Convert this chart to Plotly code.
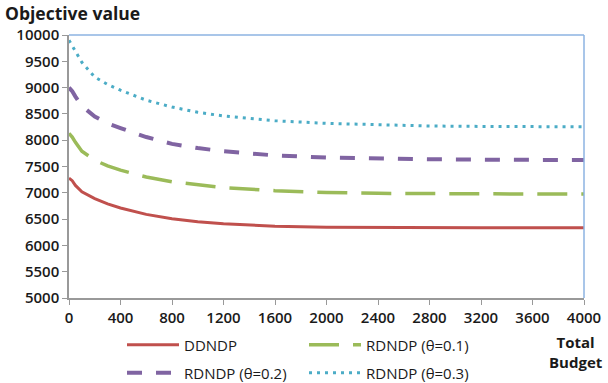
import plotly.graph_objects as go

budget = [0, 25, 50, 100, 200, 300, 400, 600, 800, 1000, 1200, 1600, 2000, 2400, 2800, 3200, 3600, 4000]
ddndp = [7280, 7230, 7140, 7020, 6890, 6790, 6710, 6590, 6505, 6450, 6410, 6365, 6345, 6338, 6335, 6335, 6335, 6335]
rdndp_01 = [8130, 8060, 7960, 7790, 7620, 7510, 7430, 7300, 7210, 7150, 7100, 7040, 7005, 6990, 6982, 6978, 6976, 6975]
rdndp_02 = [9000, 8930, 8830, 8650, 8450, 8320, 8230, 8060, 7930, 7850, 7790, 7710, 7670, 7650, 7638, 7630, 7625, 7622]
rdndp_03 = [9900, 9800, 9680, 9480, 9200, 9060, 8950, 8760, 8630, 8530, 8460, 8370, 8320, 8290, 8270, 8262, 8258, 8255]

x_ticks = [0, 400, 800, 1200, 1600, 2000, 2400, 2800, 3200, 3600, 4000]
y_ticks = [5000, 5500, 6000, 6500, 7000, 7500, 8000, 8500, 9000, 9500, 10000]
y_tick_labels = [str(v) for v in y_ticks]

FONT = "Open Sans"
TICKFONT = dict(family=FONT, size=15, color="#1a1a1a", weight=600)

fig = go.Figure()
fig.add_trace(go.Scatter(x=budget, y=ddndp, mode="lines", name="DDNDP",
                         line=dict(color="#c0504d", width=3), legend="legend"))
fig.add_trace(go.Scatter(x=budget, y=rdndp_01, mode="lines", name="RDNDP (θ=0.1)",
                         line=dict(color="#9bbb59", width=3.5, dash="30px,14px"), legend="legend"))
fig.add_trace(go.Scatter(x=budget, y=rdndp_02, mode="lines", name="RDNDP (θ=0.2)",
                         line=dict(color="#8064a2", width=4, dash="15px,14px"), legend="legend2"))
fig.add_trace(go.Scatter(x=budget, y=rdndp_03, mode="lines", name="RDNDP (θ=0.3)",
                         line=dict(color="#4bacc6", width=3, dash="3px,5px"), legend="legend2"))

legend_common = dict(orientation="h", xref="paper", yref="container", xanchor="left",
                     yanchor="middle", font=dict(family=FONT, size=15, color="#1a1a1a", weight=500),
                     itemwidth=52, entrywidthmode="pixels", entrywidth=115,
                     bgcolor="rgba(0,0,0,0)", tracegroupgap=0, borderwidth=0)

fig.update_layout(
    width=608, height=383,
    margin=dict(l=69, r=24, t=35, b=85, autoexpand=False),
    plot_bgcolor="white", paper_bgcolor="white",
    font=dict(family=FONT, size=14, color="#1a1a1a"),
    showlegend=True,
    legend=dict(x=(122 - 69) / 515, y=(383 - 345) / 383, **legend_common),
    legend2=dict(x=(122 - 69) / 515, y=(383 - 373) / 383, **legend_common),
    xaxis=dict(range=[0, 4000], tickvals=x_ticks, ticks="outside", ticklen=5,
               tickcolor="#999", showline=True, linecolor="#999", linewidth=1.5,
               showgrid=False, zeroline=False, tickfont=TICKFONT, automargin=False),
    yaxis=dict(range=[5000, 10000], tickvals=y_ticks, ticktext=y_tick_labels,
               ticks="outside", ticklen=5,
               tickcolor="#999", showline=True, linecolor="#999", linewidth=1.5,
               showgrid=False, zeroline=False, tickfont=TICKFONT, automargin=False),
    shapes=[
        dict(type="line", xref="paper", yref="paper", x0=0, x1=1, y0=1, y1=1,
             line=dict(color="#8db3e2", width=1.5)),
        dict(type="line", xref="paper", yref="paper", x0=1, x1=1, y0=0, y1=1,
             line=dict(color="#8db3e2", width=1.5)),
    ],
    annotations=[
        dict(text="<b>Objective value</b>", xref="paper", yref="paper", x=-66 / 515, y=1,
             xanchor="left", yanchor="bottom", yshift=8, showarrow=False,
             font=dict(family=FONT, size=17.5, color="#1a1a1a")),
        dict(text="<b>Total<br>Budget</b>", xref="paper", yref="paper", x=1.04, y=-0.12,
             xanchor="right", yanchor="top", align="center", showarrow=False,
             font=dict(family=FONT, size=15, color="#1a1a1a")),
    ],
)

fig.write_html("out.html", config={"displayModeBar": False},
               post_script="document.body.style.margin='0';document.body.style.overflow='hidden';")
